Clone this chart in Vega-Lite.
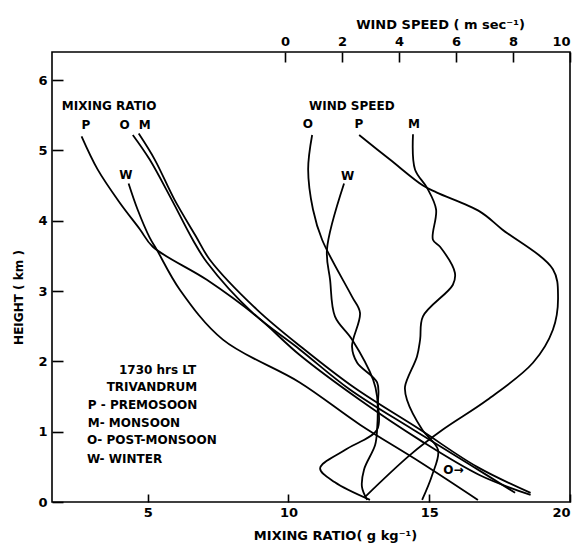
{
  "$schema": "https://vega.github.io/schema/vega-lite/v6.json",
  "width": 518,
  "height": 450,
  "autosize": {"type": "none"},
  "padding": {"left": 52, "top": 52, "right": 11, "bottom": 42},
  "background": "white",
  "config": {
    "view": {"stroke": "black", "strokeWidth": 1.6},
    "axis": {
      "grid": false,
      "domain": false,
      "tickColor": "black",
      "tickWidth": 1.6,
      "labelColor": "black",
      "labelFont": "DejaVu Sans",
      "labelFontWeight": "bold",
      "labelFontSize": 13,
      "titleFont": "DejaVu Sans",
      "titleFontWeight": "bold",
      "titleFontSize": 13,
      "titleColor": "black"
    },
    "text": {"font": "DejaVu Sans", "fontWeight": "bold", "fontSize": 12, "color": "black"}
  },
  "datasets": {
    "mix": [
      {"s": "P", "i": 0, "x": 2.65, "h": 5.20},
      {"s": "P", "i": 1, "x": 3.22, "h": 4.73},
      {"s": "P", "i": 2, "x": 4.00, "h": 4.26},
      {"s": "P", "i": 3, "x": 4.72, "h": 3.88},
      {"s": "P", "i": 4, "x": 5.18, "h": 3.63},
      {"s": "P", "i": 5, "x": 7.10, "h": 3.16},
      {"s": "P", "i": 6, "x": 8.87, "h": 2.64},
      {"s": "P", "i": 7, "x": 10.40, "h": 2.09},
      {"s": "P", "i": 8, "x": 12.54, "h": 1.45},
      {"s": "P", "i": 9, "x": 14.67, "h": 0.88},
      {"s": "P", "i": 10, "x": 16.8, "h": 0.38},
      {"s": "P", "i": 11, "x": 18.6, "h": 0.10},
      {"s": "O", "i": 0, "x": 4.47, "h": 5.22},
      {"s": "O", "i": 1, "x": 5.07, "h": 4.87},
      {"s": "O", "i": 2, "x": 5.85, "h": 4.30},
      {"s": "O", "i": 3, "x": 6.60, "h": 3.73},
      {"s": "O", "i": 4, "x": 7.10, "h": 3.41},
      {"s": "O", "i": 5, "x": 8.73, "h": 2.69},
      {"s": "O", "i": 6, "x": 10.40, "h": 2.17},
      {"s": "O", "i": 7, "x": 12.18, "h": 1.60},
      {"s": "O", "i": 8, "x": 14.42, "h": 1.03},
      {"s": "O", "i": 9, "x": 16.45, "h": 0.53},
      {"s": "O", "i": 10, "x": 18.05, "h": 0.13},
      {"s": "M", "i": 0, "x": 4.68, "h": 5.24},
      {"s": "M", "i": 1, "x": 5.25, "h": 4.87},
      {"s": "M", "i": 2, "x": 5.95, "h": 4.30},
      {"s": "M", "i": 3, "x": 6.71, "h": 3.78},
      {"s": "M", "i": 4, "x": 7.20, "h": 3.45},
      {"s": "M", "i": 5, "x": 8.87, "h": 2.74},
      {"s": "M", "i": 6, "x": 10.5, "h": 2.19},
      {"s": "M", "i": 7, "x": 12.36, "h": 1.62},
      {"s": "M", "i": 8, "x": 14.67, "h": 1.03},
      {"s": "M", "i": 9, "x": 16.7, "h": 0.50},
      {"s": "M", "i": 10, "x": 18.6, "h": 0.13},
      {"s": "W", "i": 0, "x": 4.32, "h": 4.53},
      {"s": "W", "i": 1, "x": 4.64, "h": 4.16},
      {"s": "W", "i": 2, "x": 5.07, "h": 3.76},
      {"s": "W", "i": 3, "x": 5.32, "h": 3.59},
      {"s": "W", "i": 4, "x": 6.14, "h": 3.02},
      {"s": "W", "i": 5, "x": 7.67, "h": 2.31},
      {"s": "W", "i": 6, "x": 10.40, "h": 1.70},
      {"s": "W", "i": 7, "x": 12.54, "h": 1.10},
      {"s": "W", "i": 8, "x": 14.67, "h": 0.57},
      {"s": "W", "i": 9, "x": 16.73, "h": 0.03}
    ],
    "wind": [
      {"s": "O", "i": 0, "x": 0.95, "h": 5.22},
      {"s": "O", "i": 1, "x": 0.81, "h": 4.73},
      {"s": "O", "i": 2, "x": 0.98, "h": 4.16},
      {"s": "O", "i": 3, "x": 1.30, "h": 3.73},
      {"s": "O", "i": 4, "x": 2.35, "h": 2.92},
      {"s": "O", "i": 5, "x": 2.63, "h": 2.69},
      {"s": "O", "i": 6, "x": 2.35, "h": 2.21},
      {"s": "O", "i": 7, "x": 2.53, "h": 1.98},
      {"s": "O", "i": 8, "x": 3.23, "h": 1.70},
      {"s": "O", "i": 9, "x": 3.26, "h": 1.41},
      {"s": "O", "i": 10, "x": 3.23, "h": 1.03},
      {"s": "O", "i": 11, "x": 2.10, "h": 0.74},
      {"s": "O", "i": 12, "x": 1.23, "h": 0.48},
      {"s": "O", "i": 13, "x": 1.75, "h": 0.28},
      {"s": "O", "i": 14, "x": 2.98, "h": 0.03},
      {"s": "W", "i": 0, "x": 2.07, "h": 4.53},
      {"s": "W", "i": 1, "x": 1.47, "h": 3.59},
      {"s": "W", "i": 2, "x": 1.58, "h": 3.16},
      {"s": "W", "i": 3, "x": 1.75, "h": 2.64},
      {"s": "W", "i": 4, "x": 2.35, "h": 2.31},
      {"s": "W", "i": 5, "x": 3.09, "h": 1.74},
      {"s": "W", "i": 6, "x": 3.23, "h": 1.50},
      {"s": "W", "i": 7, "x": 3.23, "h": 1.03},
      {"s": "W", "i": 8, "x": 3.16, "h": 0.81},
      {"s": "W", "i": 9, "x": 2.77, "h": 0.46},
      {"s": "W", "i": 10, "x": 2.70, "h": 0.21},
      {"s": "W", "i": 11, "x": 2.88, "h": 0.03},
      {"s": "P", "i": 0, "x": 2.60, "h": 5.22},
      {"s": "P", "i": 1, "x": 3.68, "h": 4.87},
      {"s": "P", "i": 2, "x": 4.84, "h": 4.50},
      {"s": "P", "i": 3, "x": 5.33, "h": 4.40},
      {"s": "P", "i": 4, "x": 6.84, "h": 4.13},
      {"s": "P", "i": 5, "x": 7.61, "h": 3.88},
      {"s": "P", "i": 6, "x": 9.40, "h": 3.31},
      {"s": "P", "i": 7, "x": 9.58, "h": 2.92},
      {"s": "P", "i": 8, "x": 9.40, "h": 2.45},
      {"s": "P", "i": 9, "x": 8.70, "h": 1.98},
      {"s": "P", "i": 10, "x": 7.09, "h": 1.45},
      {"s": "P", "i": 11, "x": 5.54, "h": 1.03},
      {"s": "P", "i": 12, "x": 4.39, "h": 0.67},
      {"s": "P", "i": 13, "x": 2.80, "h": 0.07},
      {"s": "M", "i": 0, "x": 4.49, "h": 5.23},
      {"s": "M", "i": 1, "x": 4.56, "h": 4.73},
      {"s": "M", "i": 2, "x": 4.98, "h": 4.47},
      {"s": "M", "i": 3, "x": 5.30, "h": 4.16},
      {"s": "M", "i": 4, "x": 5.19, "h": 3.73},
      {"s": "M", "i": 5, "x": 5.44, "h": 3.63},
      {"s": "M", "i": 6, "x": 5.96, "h": 3.26},
      {"s": "M", "i": 7, "x": 5.89, "h": 3.09},
      {"s": "M", "i": 8, "x": 4.84, "h": 2.64},
      {"s": "M", "i": 9, "x": 4.74, "h": 2.31},
      {"s": "M", "i": 10, "x": 4.63, "h": 2.07},
      {"s": "M", "i": 11, "x": 4.21, "h": 1.64},
      {"s": "M", "i": 12, "x": 4.28, "h": 1.45},
      {"s": "M", "i": 13, "x": 4.81, "h": 1.03},
      {"s": "M", "i": 14, "x": 5.37, "h": 0.74},
      {"s": "M", "i": 15, "x": 5.16, "h": 0.38},
      {"s": "M", "i": 16, "x": 4.81, "h": 0.03}
    ],
    "labels": [
      {"t": "MIXING  RATIO", "x": 1.95, "h": 5.63, "a": "left"},
      {"t": "P", "x": 2.8, "h": 5.36, "a": "center"},
      {"t": "O", "x": 4.18, "h": 5.36, "a": "center"},
      {"t": "M", "x": 4.89, "h": 5.36, "a": "center"},
      {"t": "W", "x": 4.22, "h": 4.65, "a": "center"},
      {"t": "WIND SPEED", "x": 12.25, "h": 5.63, "a": "center"},
      {"t": "O", "x": 10.69, "h": 5.37, "a": "center"},
      {"t": "P", "x": 12.5, "h": 5.37, "a": "center"},
      {"t": "M", "x": 14.46, "h": 5.37, "a": "center"},
      {"t": "W", "x": 12.1, "h": 4.63, "a": "center"},
      {"t": "1730 hrs LT", "x": 5.35, "h": 1.88, "a": "center"},
      {"t": "TRIVANDRUM", "x": 5.15, "h": 1.64, "a": "center"},
      {"t": "P - PREMOSOON", "x": 2.87, "h": 1.38, "a": "left"},
      {"t": "M-  MONSOON", "x": 2.87, "h": 1.13, "a": "left"},
      {"t": "O-  POST-MONSOON", "x": 2.84, "h": 0.88, "a": "left"},
      {"t": "W- WINTER", "x": 2.84, "h": 0.61, "a": "left"},
      {"t": "O→", "x": 15.5, "h": 0.46, "a": "left"}
    ]
  },
  "resolve": {"scale": {"x": "independent"}},
  "layer": [
    {
      "data": {"name": "mix"},
      "mark": {"type": "line", "color": "black", "strokeWidth": 1.8, "interpolate": "catmull-rom"},
      "encoding": {
        "x": {"field": "x", "type": "quantitative",
              "scale": {"domain": [1.6, 20], "nice": false, "zero": false},
              "axis": {"orient": "bottom", "values": [5, 10, 15, 20], "format": "d", "offset": -8, "tickSize": 8, "labelPadding": 4,
                       "title": "MIXING RATIO( g kg⁻¹)", "titleX": 283, "titleY": 41, "titleBaseline": "middle"}},
        "y": {"field": "h", "type": "quantitative",
              "scale": {"domain": [0, 6.4], "nice": false},
              "axis": {"orient": "left", "values": [0, 1, 2, 3, 4, 5, 6], "format": "d", "offset": -11, "tickSize": 11, "labelPadding": 5,
                       "title": "HEIGHT ( km )", "titleFontSize": 12, "titleX": -45, "titleY": 245, "titleBaseline": "middle", "titleAngle": -90}},
        "detail": {"field": "s"},
        "order": {"field": "i"}
      }
    },
    {
      "data": {"name": "wind"},
      "mark": {"type": "line", "color": "black", "strokeWidth": 1.8, "interpolate": "catmull-rom"},
      "encoding": {
        "x": {"field": "x", "type": "quantitative",
              "scale": {"domain": [-8.18, 10], "nice": false, "zero": false},
              "axis": {"orient": "top", "values": [0, 2, 4, 6, 8, 10], "format": "d", "offset": -10, "tickSize": 10, "labelPadding": 4,
                       "title": "WIND SPEED ( m sec⁻¹)", "titleX": 388, "titleY": -38, "titleBaseline": "middle"}},
        "y": {"field": "h", "type": "quantitative", "scale": {"domain": [0, 6.4], "nice": false}},
        "detail": {"field": "s"},
        "order": {"field": "i"}
      }
    },
    {
      "data": {"name": "labels"},
      "transform": [{"filter": "datum.a == 'left'"}],
      "mark": {"type": "text", "baseline": "middle", "align": "left"},
      "encoding": {
        "x": {"field": "x", "type": "quantitative", "scale": {"domain": [1.6, 20], "nice": false, "zero": false}, "axis": null},
        "y": {"field": "h", "type": "quantitative", "scale": {"domain": [0, 6.4], "nice": false}},
        "text": {"field": "t"}
      }
    },
    {
      "data": {"name": "labels"},
      "transform": [{"filter": "datum.a == 'center'"}],
      "mark": {"type": "text", "baseline": "middle", "align": "center"},
      "encoding": {
        "x": {"field": "x", "type": "quantitative", "scale": {"domain": [1.6, 20], "nice": false, "zero": false}, "axis": null},
        "y": {"field": "h", "type": "quantitative", "scale": {"domain": [0, 6.4], "nice": false}},
        "text": {"field": "t"}
      }
    }
  ]
}
